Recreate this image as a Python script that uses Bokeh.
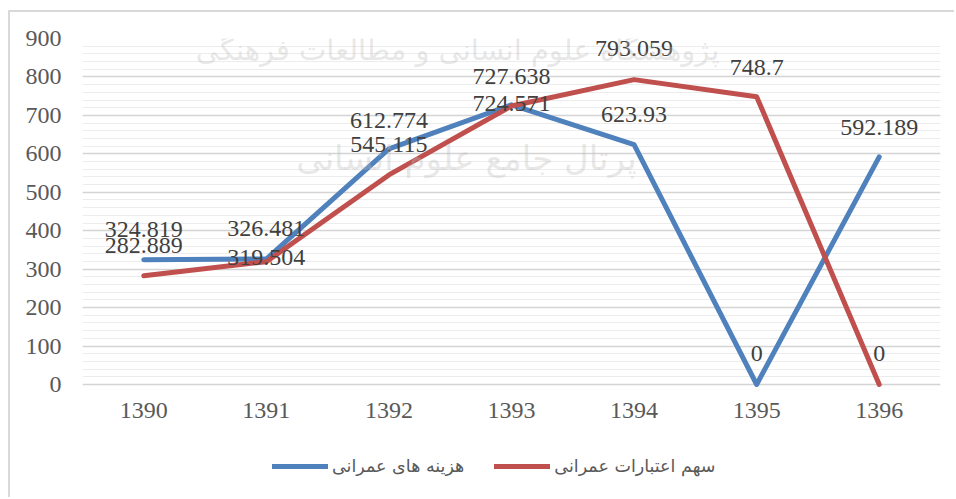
from bokeh.plotting import figure
from bokeh.models import (ColumnDataSource, FactorRange, Range1d, FixedTicker,
                          Legend, LegendItem, Label)
from bokeh.core.properties import value
from bokeh.embed import file_html
from bokeh.resources import INLINE

# ---- data ----
years = ["1390", "1391", "1392", "1393", "1394", "1395", "1396"]
costs = [324.819, 326.481, 612.774, 727.638, 623.93, 0, 592.189]       # هزینه های عمرانی
credits = [282.889, 319.504, 545.115, 724.571, 793.059, 748.7, 0]     # سهم اعتبارات عمرانی
cost_name = "هزینه های عمرانی"
credit_name = "سهم اعتبارات عمرانی"
y_ticks = [0, 100, 200, 300, 400, 500, 600, 700, 800, 900]
y_minor = list(range(0, 901, 20))
watermark_1 = "پژوهشگاه علوم انسانی و مطالعات فرهنگی"
watermark_2 = "پرتال جامع علوم انسانی"

# ---- styles ----
BLUE = "#4f81bd"
RED = "#c0504d"
cost_label_dy = [-30, -30, -28, -28, -30, -31, -29]
credit_label_dy = [-30, -4, -30, -2, -31, -29, -31]

# frame spans page y 38..499 ; value 0 sits at page y 384
Y_BOTTOM = -(499 - 384) * 900 / 346

p = figure(width=946, height=487, x_range=FactorRange(*years, range_padding=0),
           y_range=Range1d(Y_BOTTOM, 900), output_backend="svg", toolbar_location=None,
           min_border_left=72, min_border_right=16, min_border_top=26, min_border_bottom=0)
p.styles = {"margin-left": "8px", "margin-top": "10px",
            "border-left": "2px solid #d9d9d9", "border-top": "2px solid #d9d9d9"}
p.outline_line_color = None
p.background_fill_color = "white"
p.border_fill_color = "white"
p.xaxis.visible = False

p.xgrid.grid_line_color = None
p.yaxis.ticker = FixedTicker(ticks=y_ticks, minor_ticks=y_minor)
p.ygrid.grid_line_color = "#d4d4d4"
p.ygrid.grid_line_width = 1.5
p.ygrid.minor_grid_line_color = "#ececec"
p.ygrid.minor_grid_line_width = 1

ax = p.yaxis[0]
ax.axis_line_color = None
ax.major_tick_line_color = None
ax.minor_tick_line_color = None
ax.major_label_text_font = "Liberation Serif"
ax.major_label_text_font_size = "24px"
ax.major_label_text_color = "#595959"
ax.major_label_standoff = 15

# category labels under the zero line
p.text(x=years, y=[0] * len(years), text=years, y_offset=26, text_align="center",
       text_baseline="middle", text_font=value("Liberation Serif"), text_font_size="24px",
       text_color="#595959")

src_c = ColumnDataSource(dict(x=years, y=costs, lab=[f"{v:g}" for v in costs], dy=cost_label_dy))
src_r = ColumnDataSource(dict(x=years, y=credits, lab=[f"{v:g}" for v in credits], dy=credit_label_dy))

l_c = p.line("x", "y", source=src_c, line_color=BLUE, line_width=5, line_cap="round", line_join="round")
l_r = p.line("x", "y", source=src_r, line_color=RED, line_width=5, line_cap="round", line_join="round")

for s in (src_c, src_r):
    p.text("x", "y", text="lab", source=s, y_offset="dy", text_align="center", text_baseline="middle",
           text_font=value("Liberation Serif"), text_font_size="24px", text_color="#404040")

# faint watermark of the source document
for txt, sx, sy, size in ((watermark_1, 375, 450, "29px"), (watermark_2, 384, 342, "34px")):
    p.add_layout(Label(x=sx, y=sy, x_units="screen", y_units="screen", text=txt,
                       text_align="center", text_baseline="middle", text_font="DejaVu Sans",
                       text_font_size=size, text_color="#bdbdbd", text_alpha=0.35))

legend = Legend(items=[LegendItem(label=cost_name, renderers=[l_c]),
                       LegendItem(label=credit_name, renderers=[l_r])],
                orientation="horizontal", location=(190, 23))
legend.label_text_font = "DejaVu Sans"
legend.label_text_font_size = "17.5px"
legend.label_text_color = "#595959"
legend.glyph_width = 56
legend.glyph_height = 20
legend.label_standoff = 4
legend.spacing = 30
legend.padding = 0
legend.margin = 0
legend.border_line_color = None
legend.background_fill_alpha = 0
p.add_layout(legend, "center")

open("out.html", "w").write(file_html(p, INLINE))
